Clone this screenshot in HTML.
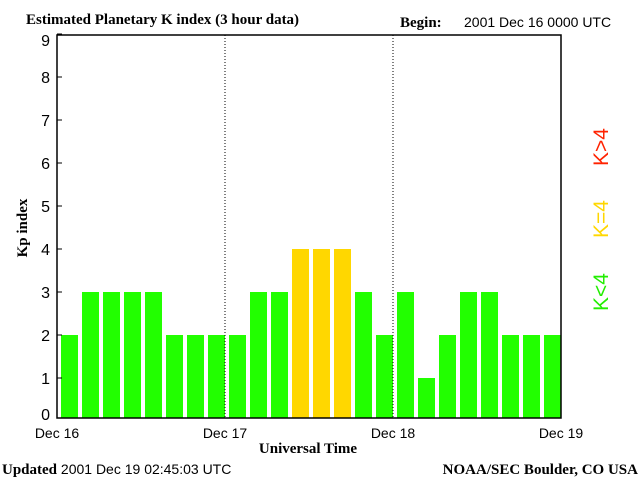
<!DOCTYPE html>
<html><head><meta charset="utf-8"><style>
body{margin:0;background:#fff}
svg text{font-family:"Liberation Sans",sans-serif;font-size:14px}
.s{font-family:"Liberation Serif",serif;font-weight:bold;font-size:15px}
</style></head><body>
<svg id="c" width="640" height="480" xmlns="http://www.w3.org/2000/svg">
<rect width="640" height="480" fill="#fff"/>
<text class="s" x="26" y="24">Estimated Planetary K index (3 hour data)</text>
<text class="s" x="400" y="27">Begin:</text>
<text x="464" y="27">2001 Dec 16 0000 UTC</text>
<text class="s" transform="translate(27,228) rotate(-90)" text-anchor="middle">Kp index</text>
<text class="s" x="308" y="453" text-anchor="middle">Universal Time</text>
<text x="2" y="474"><tspan class="s">Updated</tspan> 2001 Dec 19 02:45:03 UTC</text>
<text class="s" x="638" y="474" text-anchor="end">NOAA/SEC Boulder, CO USA</text>
<g>
<text transform="translate(608,292) rotate(-90)" style="fill:#22ee00;font-size:21px" text-anchor="middle">K&lt;4</text>
<text transform="translate(608,219) rotate(-90)" style="fill:#ffd700;font-size:21px" text-anchor="middle">K=4</text>
<text transform="translate(608,147) rotate(-90)" style="fill:#ff2200;font-size:21px" text-anchor="middle">K&gt;4</text>
</g>
<g id="plot"></g>
</svg>
<script>
const values=[2,3,3,3,3,2,2,2, 2,3,3,4,4,4,3,2, 3,1,2,3,3,2,2,2];
const dayLabels=["Dec 16","Dec 17","Dec 18","Dec 19"];
const yTicks=[0,1,2,3,4,5,6,7,8,9];
const L=57,R=561,T=35,B=418;
const NS="http://www.w3.org/2000/svg";
const g=document.getElementById('plot');
const x=i=>L+i*(R-L)/values.length;
const y=v=>Math.min(B,421-43*v);
function mk(t,a){const e=document.createElementNS(NS,t);for(const k in a)e.setAttribute(k,a[k]);g.appendChild(e);return e;}
values.forEach((v,i)=>{
  const r=mk('rect',{x:x(i)+4,y:y(v),width:17,height:B-y(v),fill:v>4?'#ff2200':v==4?'#ffd700':'#22ff00'});
  
  
});
dayLabels.forEach((d,i)=>{
  const xx=L+i*(R-L)/(dayLabels.length-1);
  if(i>0&&i<dayLabels.length-1){const l=mk('line',{x1:xx,x2:xx,y1:T,y2:B,stroke:'#000','stroke-dasharray':'1,2'});
  
  }
  const t=mk('text',{x:xx,y:438,'text-anchor':'middle'});t.textContent=d;
  
  
});
yTicks.forEach(v=>{
  const yy=421-43*v;
  mk('line',{x1:L,x2:L+5,y1:Math.min(yy,B),y2:Math.min(yy,B),stroke:'#000'});
  const t=mk('text',{x:50,y:Math.max(Math.min(yy,414),40)+6,'text-anchor':'end',style:'font-size:16px'});t.textContent=v;
  
  
});
const f=mk('rect',{x:L,y:T,width:R-L,height:B-T,fill:'none',stroke:'#000','stroke-width':1.5});


</script>
</body></html>
